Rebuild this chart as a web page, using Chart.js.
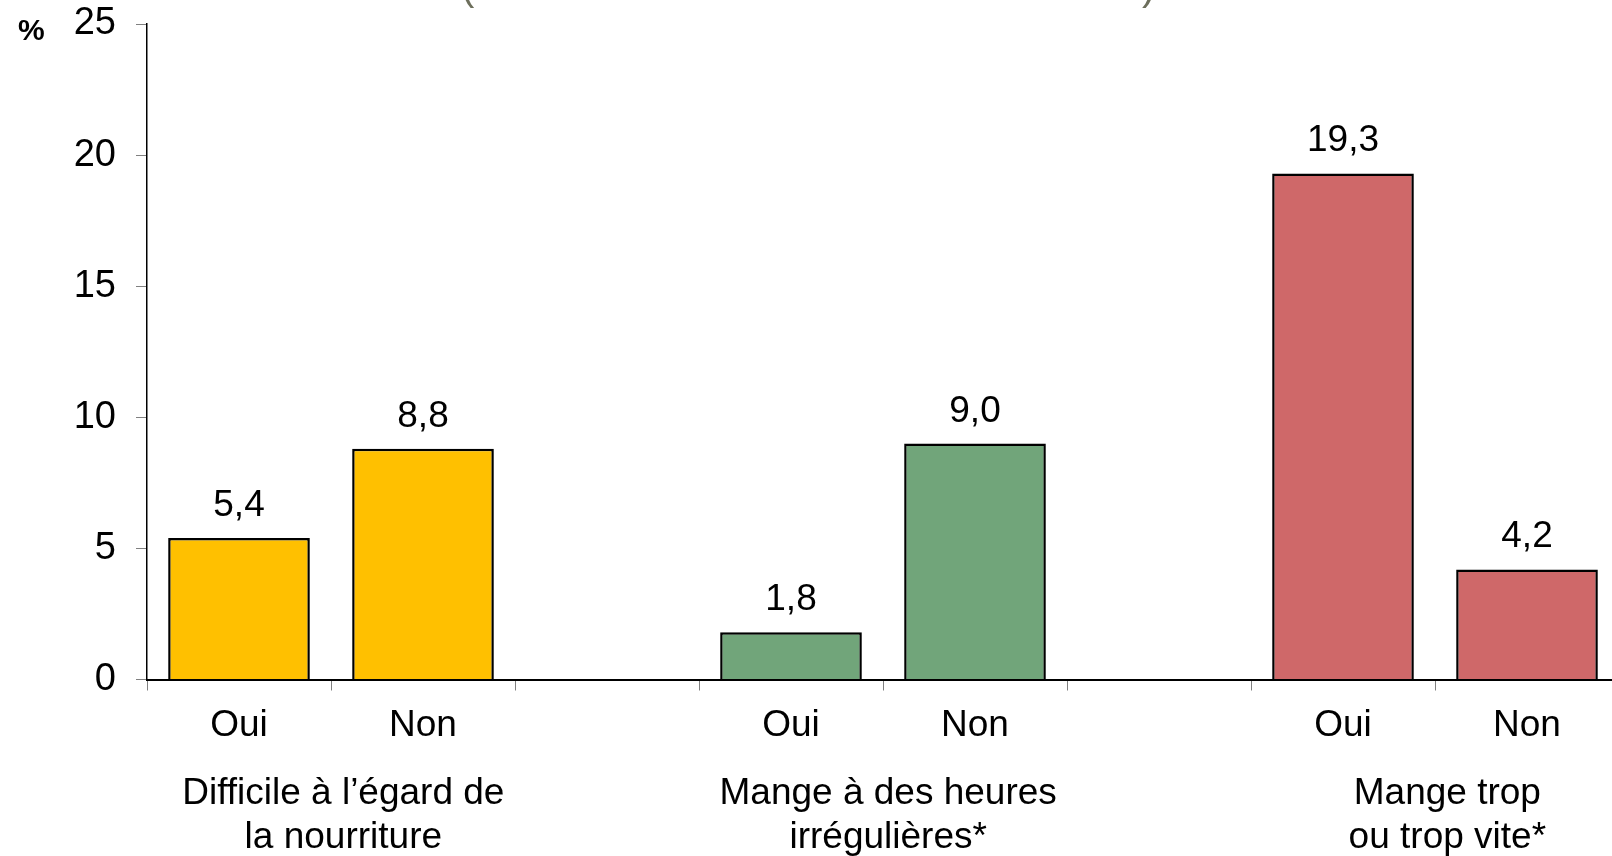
<!DOCTYPE html>
<html>
<head>
<meta charset="utf-8">
<script src="https://cdn.jsdelivr.net/npm/chart.js@4.4.1/dist/chart.umd.min.js"></script>
<style>
  html, body { margin: 0; padding: 0; background: #fff; overflow: hidden; }
  #wrap { position: relative; width: 1803px; height: 856px; }
  .paren { position: absolute; top: -34px; font: 40px 'Liberation Sans', Arial, sans-serif; line-height: 40px; color: #6d6f5c; }
  #pct { position: absolute; left: 18px; top: 13px; font: bold 30px 'Liberation Sans', Arial, sans-serif; color: #000; }
</style>
</head>
<body>
<div id="wrap">
  <canvas id="chart"></canvas>
  <span class="paren" style="left:461px">(</span>
  <span class="paren" style="left:1142px">)</span>
  <div id="pct">%</div>
</div>
<script>
// Réponses par sous-groupe (Oui / Non), avec un emplacement vide après chaque groupe
const categories = ['Oui', 'Non', '', 'Oui', 'Non', '', 'Oui', 'Non', ''];
const values = [5.4, 8.8, null, 1.8, 9.0, null, 19.3, 4.2, null];
const barColors = ['#FFC000', '#FFC000', null, '#71A57A', '#71A57A', null, '#CF6869', '#CF6869', null];
const groupLabels = [
    ['Difficile à l’égard de', 'la nourriture'],
    ['Mange à des heures', 'irrégulières*'],
    ['Mange trop', 'ou trop vite*']
];
const groupCenters = [0.567, 3.528, 6.567];
const yTicks = [0, 5, 10, 15, 20, 25];

const FONT = "'Liberation Sans', Arial, sans-serif";

const valueLabels = {
    id: 'valueLabels',
    afterDatasetsDraw(chart) {
        const ctx = chart.ctx;
        const meta = chart.getDatasetMeta(0);
        ctx.save();
        ctx.font = `37px ${FONT}`;
        ctx.fillStyle = '#000';
        ctx.textAlign = 'center';
        ctx.textBaseline = 'alphabetic';
        meta.data.forEach((bar, i) => {
            if (values[i] == null) return;
            ctx.fillText(values[i].toFixed(1).replace('.', ','), bar.x, bar.y - 22);
        });
        ctx.restore();
    }
};

new Chart(document.getElementById('chart'), {
    type: 'bar',
    data: {
        labels: categories,
        datasets: [{
            data: values,
            backgroundColor: barColors,
            borderColor: '#000',
            borderWidth: 2.5,
            barPercentage: 0.77,
            categoryPercentage: 1
        }]
    },
    options: {
        responsive: true,
        maintainAspectRatio: false,
        animation: false,
        layout: { padding: { top: 24, left: 0, right: 0, bottom: 0 } },
        plugins: { legend: { display: false }, tooltip: { enabled: false } },
        scales: {
            x: {
                position: 'bottom',
                grid: { drawOnChartArea: false, drawTicks: true, tickLength: 11, color: '#808080', offset: true },
                border: { color: '#000', width: 2 },
                ticks: { color: '#000', font: { family: FONT, size: 37 }, padding: 13, maxRotation: 0, autoSkip: false },
                afterFit: s => { s.height = 60; }
            },
            groups: {
                type: 'linear',
                position: 'bottom',
                offset: false,
                min: -0.5,
                max: 8.5,
                grid: { display: false, drawTicks: false },
                border: { display: false },
                afterBuildTicks: s => { s.ticks = groupCenters.map(v => ({ value: v })); },
                ticks: {
                    color: '#000',
                    font: { family: FONT, size: 37, lineHeight: 1.2 },
                    padding: 32,
                    maxRotation: 0,
                    autoSkip: false,
                    callback: (v, i) => groupLabels[i]
                },
                afterFit: s => { s.height = 116.5; }
            },
            y: {
                min: 0,
                max: 25,
                afterBuildTicks: s => { s.ticks = yTicks.map(v => ({ value: v })); },
                grid: { drawOnChartArea: false, drawTicks: true, tickLength: 11, color: '#808080' },
                border: { color: '#000', width: 1.5 },
                ticks: { color: '#000', font: { family: FONT, size: 38 }, padding: 20 },
                afterFit: s => { s.width = 147; s.paddingTop = 0; s.paddingBottom = 0; }
            }
        }
    },
    plugins: [valueLabels]
});
</script>
</body>
</html>
